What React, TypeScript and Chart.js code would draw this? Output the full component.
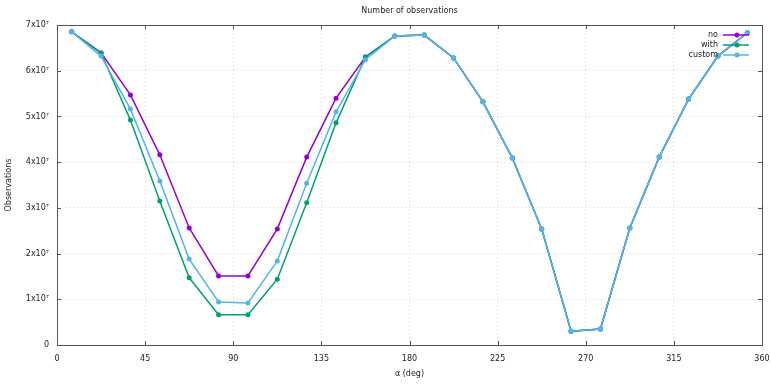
import React, { useEffect, useRef } from "react";
import { Chart, registerables } from "chart.js";

Chart.register(...registerables);

const angles = [7.5, 22.5, 37.5, 52.5, 67.5, 82.5, 97.5, 112.5, 127.5, 142.5, 157.5, 172.5, 187.5, 202.5, 217.5, 232.5, 247.5, 262.5, 277.5, 292.5, 307.5, 322.5, 337.5, 352.5];
const noValues = [6.85, 6.39, 5.47, 4.16, 2.56, 1.51, 1.51, 2.54, 4.11, 5.40, 6.30, 6.76, 6.78, 6.28, 5.32, 4.09, 2.54, 0.30, 0.35, 2.56, 4.11, 5.38, 6.32, 6.83].map((v) => v * 1e7);
const withValues = [6.85, 6.39, 4.92, 3.15, 1.47, 0.66, 0.66, 1.44, 3.11, 4.86, 6.30, 6.76, 6.78, 6.28, 5.32, 4.09, 2.54, 0.30, 0.35, 2.56, 4.11, 5.38, 6.32, 6.83].map((v) => v * 1e7);
const customValues = [6.85, 6.32, 5.16, 3.59, 1.88, 0.94, 0.92, 1.84, 3.54, 5.10, 6.24, 6.76, 6.78, 6.28, 5.32, 4.09, 2.54, 0.30, 0.35, 2.56, 4.11, 5.38, 6.32, 6.83].map((v) => v * 1e7);
const seriesLabels = ["no", "with", "custom"];
const seriesColors = ["#9400d3", "#009e73", "#56b4e9"];
const titleText = "Number of observations";
const xTitle = "α (deg)";
const yTitle = "Observations";

const FONT = "DejaVu Sans";

const decorPlugin = {
  id: "decor",
  afterDraw(chart: any) {
    const { ctx, chartArea } = chart;
    const { left, right, top, bottom } = chartArea;
    const xs = chart.scales.x;
    const ys = chart.scales.y;
    ctx.save();
    ctx.strokeStyle = "#555";
    ctx.lineWidth = 1;
    ctx.strokeRect(Math.round(left) + 0.5, Math.round(top) + 0.5, Math.round(right - left), Math.round(bottom - top));
    ctx.beginPath();
    xs.ticks.forEach((t: any) => {
      const px = Math.round(xs.getPixelForValue(t.value)) + 0.5;
      ctx.moveTo(px, top);
      ctx.lineTo(px, top + 4);
      ctx.moveTo(px, bottom);
      ctx.lineTo(px, bottom - 4);
    });
    ys.ticks.forEach((t: any) => {
      const py = Math.round(ys.getPixelForValue(t.value)) + 0.5;
      ctx.moveTo(right, py);
      ctx.lineTo(right - 4, py);
      ctx.moveTo(left, py);
      ctx.lineTo(left + 4, py);
    });
    ctx.stroke();
    ctx.fillStyle = "#222";
    ctx.font = `8px '${FONT}'`;
    ctx.textAlign = "center";
    ctx.textBaseline = "middle";
    ctx.fillText(titleText, (left + right) / 2, 11);
    ctx.textAlign = "right";
    seriesLabels.forEach((lab, i) => {
      const y = 35 + i * 10;
      ctx.fillStyle = "#222";
      ctx.fillText(lab, 718, y);
      ctx.strokeStyle = seriesColors[i];
      ctx.lineWidth = 1.5;
      ctx.beginPath();
      ctx.moveTo(723, y);
      ctx.lineTo(749, y);
      ctx.stroke();
      ctx.fillStyle = seriesColors[i];
      ctx.beginPath();
      ctx.arc(737, y, 2.5, 0, Math.PI * 2);
      ctx.fill();
    });
    ctx.restore();
  },
};

export default function App() {
  const ref = useRef<HTMLCanvasElement | null>(null);
  useEffect(() => {
    document.body.style.margin = "0";
    const values = [noValues, withValues, customValues];
    const chart = new Chart(ref.current as HTMLCanvasElement, {
      type: "line",
      data: {
        datasets: values.map((vals, i) => ({
          label: seriesLabels[i],
          data: angles.map((a, j) => ({ x: a, y: vals[j] })),
          borderColor: seriesColors[i],
          backgroundColor: seriesColors[i],
          borderWidth: 1.5,
          pointRadius: 2.5,
          pointBorderWidth: 0,
          tension: 0,
          order: 3 - i,
        })),
      },
      options: {
        animation: false,
        responsive: false,
        maintainAspectRatio: false,
        layout: { padding: { top: 25, right: 9, left: 0, bottom: 0 } },
        plugins: { legend: { display: false }, tooltip: { enabled: false }, title: { display: false } },
        scales: {
          x: {
            type: "linear",
            min: 0,
            max: 360,
            ticks: { stepSize: 45, padding: 9, color: "#222", font: { family: FONT, size: 8 }, maxRotation: 0 },
            grid: { color: "#d8d8d8", drawTicks: false },
            border: { display: false, dash: [1, 3] },
            title: { display: true, text: xTitle, color: "#222", font: { family: FONT, size: 8 }, padding: { top: 4, bottom: 6 } },
            afterFit: (s: any) => { s.height = 40; s.paddingLeft = 0; s.paddingRight = 0; },
          },
          y: {
            type: "linear",
            min: 0,
            max: 7e7,
            ticks: {
              stepSize: 1e7,
              padding: 8,
              color: "#222",
              font: { family: FONT, size: 8 },
              callback: (v: any) => (v === 0 ? "0" : `${Math.round(v / 1e7)}x10⁷`),
            },
            grid: { color: "#d8d8d8", drawTicks: false },
            border: { display: false, dash: [1, 3] },
            title: { display: true, text: yTitle, color: "#222", font: { family: FONT, size: 8 }, padding: { top: 4, bottom: 4 } },
            afterFit: (s: any) => { s.width = 57; s.paddingTop = 0; s.paddingBottom = 0; },
          },
        },
      },
      plugins: [decorPlugin],
    } as any);
    return () => chart.destroy();
  }, []);
  return <canvas ref={ref} width={771} height={385} style={{ display: "block" }} />;
}
